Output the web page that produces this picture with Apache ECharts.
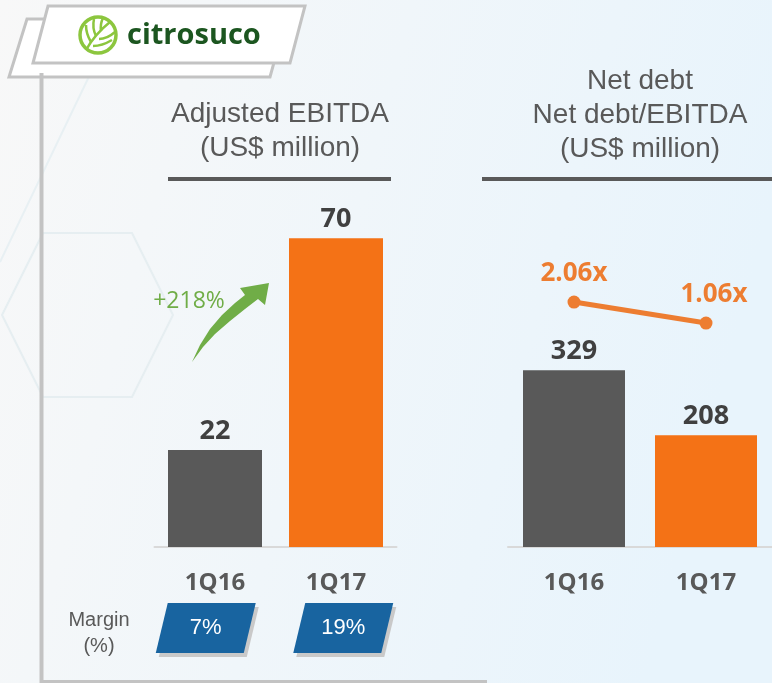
<!DOCTYPE html>
<html>
<head>
<meta charset="utf-8">
<script src="https://cdn.jsdelivr.net/npm/echarts@6/dist/echarts.min.js"></script>
<style>
html, body { margin: 0; padding: 0; }
#main { width: 772px; height: 683px; }
</style>
</head>
<body>
<div id="main"></div>
<script>
var quarters = ['1Q16', '1Q17'];
var ebitdaValues = [22, 70];
var marginLabels = ['7%', '19%'];
var netDebtValues = [329, 208];
var ratioValues = [2.06, 1.06];
var growthLabel = '+218%';

var gray = '#595959';
var orange = '#f47216';
var lineOrange = '#ed7d31';
var frameGray = '#c3c3c3';
var leafGreen = '#8cc63e';
var numFont = '"Open Sans", "DejaVu Sans", sans-serif';
var txtFont = '"Liberation Sans", Arial, sans-serif';

var chart = echarts.init(document.getElementById('main'));

function barLabel() {
	return {
		show: true,
		position: 'top',
		distance: 5,
		color: '#404040',
		fontFamily: numFont,
		fontWeight: 'bold',
		fontSize: 27
	};
}

function catAxis(gridIndex, showLine) {
	return {
		type: 'category',
		gridIndex: gridIndex,
		data: quarters,
		show: showLine,
		axisLine: { show: showLine, lineStyle: { color: '#d9d9d9', width: 2 } },
		axisTick: { show: false },
		axisLabel: {
			show: showLine,
			margin: 24,
			color: gray,
			fontFamily: numFont,
			fontWeight: 'bold',
			fontSize: 24
		}
	};
}

// parallelogram boxes with the margin under the left chart
function renderMargin(params, api) {
	var top = api.coord([api.value(0), 1]);
	var bot = api.coord([api.value(0), 0]);
	var cx = top[0];
	var pts = [[cx - 38, top[1]], [cx + 50, top[1]], [cx + 38, bot[1]], [cx - 50, bot[1]]];
	var shadow = pts.map(function(p) { return [p[0] + 3, p[1] + 4]; });
	return {
		type: 'group',
		children: [
			{ type: 'polygon', shape: { points: shadow }, style: { fill: '#c9c9c9' } },
			{ type: 'polygon', shape: { points: pts }, style: { fill: '#1864a0' } },
			{
				type: 'text',
				x: cx,
				y: (top[1] + bot[1]) / 2,
				style: {
					text: marginLabels[params.dataIndex],
					fill: '#ffffff',
					font: '22px ' + txtFont,
					align: 'center',
					verticalAlign: 'middle'
				}
			}
		]
	};
}

function vein(x1, y1, cx, cy, x2, y2) {
	return {
		type: 'bezierCurve',
		shape: { x1: x1, y1: y1, cpx1: cx, cpy1: cy, x2: x2, y2: y2 },
		style: { stroke: leafGreen, lineWidth: 2.5, fill: null }
	};
}

var hex = [[43, 233], [132, 233], [173, 315], [132, 397], [43, 397], [2, 315], [43, 233]];
var arrowPts = [[192, 362], [200, 345], [210, 329], [222, 315], [235, 303], [245, 295], [240, 288], [269, 283],
	[265, 305], [258, 299], [245, 309], [230, 321], [215, 334], [203, 347]];

var option = {
	animation: false,
	graphic: [
		{
			type: 'rect', z: -10, silent: true,
			shape: { x: 0, y: 0, width: 772, height: 683 },
			style: {
				fill: new echarts.graphic.LinearGradient(0, 0, 1, 0.3, [
					{ offset: 0, color: '#f8f8f8' },
					{ offset: 1, color: '#e8f4fc' }
				])
			}
		},
		{ type: 'polyline', z: -9, shape: { points: hex }, style: { stroke: '#e6eef1', lineWidth: 2, fill: null } },
		{ type: 'polyline', z: -9, shape: { points: [[95, 64], [0, 262]] }, style: { stroke: '#e8f0f3', lineWidth: 2 } },
		// logo frames
		{ type: 'polygon', shape: { points: [[27, 19], [286, 19], [270, 77], [9, 77]] }, style: { fill: '#ffffff', stroke: frameGray, lineWidth: 3 } },
		{ type: 'polygon', shape: { points: [[48, 6], [305, 6], [290, 63], [33, 63]] }, style: { fill: '#ffffff', stroke: frameGray, lineWidth: 3 } },
		{ type: 'circle', shape: { cx: 98, cy: 35, r: 18 }, style: { fill: null, stroke: leafGreen, lineWidth: 3.5 } },
		vein(86, 50, 95, 34, 110, 22),
		vein(91, 42, 86, 34, 86, 25),
		vein(96, 36, 92, 28, 94, 19),
		vein(101, 31, 100, 24, 103, 18),
		vein(93, 46, 102, 46, 112, 40),
		vein(99, 39, 107, 39, 115, 32),
		{ type: 'text', x: 127, y: 36, style: { text: 'citrosuco', fill: '#1c5620', font: 'bold 29px ' + numFont, align: 'left', verticalAlign: 'middle' } },
		// side frame
		{ type: 'line', shape: { x1: 41.5, y1: 73, x2: 41.5, y2: 683 }, style: { stroke: frameGray, lineWidth: 4 } },
		{ type: 'line', shape: { x1: 40, y1: 681.5, x2: 487, y2: 681.5 }, style: { stroke: frameGray, lineWidth: 3 } },
		// titles
		{ type: 'text', x: 280, y: 131, style: { text: 'Adjusted EBITDA\n(US$ million)', fill: gray, font: '28px ' + txtFont, lineHeight: 34, align: 'center', verticalAlign: 'middle' } },
		{ type: 'line', shape: { x1: 168, y1: 179, x2: 391, y2: 179 }, style: { stroke: gray, lineWidth: 4 } },
		{ type: 'text', x: 640, y: 115, style: { text: 'Net debt\nNet debt/EBITDA\n(US$ million)', fill: gray, font: '28px ' + txtFont, lineHeight: 34, align: 'center', verticalAlign: 'middle' } },
		{ type: 'line', shape: { x1: 482, y1: 179, x2: 772, y2: 179 }, style: { stroke: gray, lineWidth: 4 } },
		// growth arrow
		{ type: 'polygon', shape: { points: arrowPts }, style: { fill: '#70ad47' } },
		{ type: 'text', x: 189, y: 301, style: { text: growthLabel, fill: '#70ad47', font: '23px ' + numFont, align: 'center', verticalAlign: 'middle' } },
		{ type: 'text', x: 99, y: 633, style: { text: 'Margin\n(%)', fill: gray, font: '20px ' + txtFont, lineHeight: 26, align: 'center', verticalAlign: 'middle' } }
	],
	grid: [
		{ left: 154.5, width: 242, top: 106, height: 441 },
		{ left: 508, width: 264, top: 171, height: 376 },
		{ left: 137, width: 275, top: 603, height: 50 }
	],
	xAxis: [catAxis(0, true), catAxis(1, true), catAxis(2, false)],
	yAxis: [
		{ type: 'value', gridIndex: 0, min: 0, max: 100, show: false },
		{ type: 'value', gridIndex: 1, min: 0, max: 700, show: false },
		{ type: 'value', gridIndex: 1, min: -9.6, max: 8.3, show: false },
		{ type: 'value', gridIndex: 2, min: 0, max: 1, show: false }
	],
	series: [
		{
			type: 'bar',
			xAxisIndex: 0,
			yAxisIndex: 0,
			barWidth: 94,
			data: ebitdaValues.map(function(v, i) {
				return { value: v, itemStyle: { color: i == 0 ? gray : orange } };
			}),
			label: barLabel()
		},
		{
			type: 'bar',
			xAxisIndex: 1,
			yAxisIndex: 1,
			barWidth: 102,
			data: netDebtValues.map(function(v, i) {
				return { value: v, itemStyle: { color: i == 0 ? gray : orange } };
			}),
			label: barLabel()
		},
		{
			type: 'line',
			xAxisIndex: 1,
			yAxisIndex: 2,
			symbol: 'circle',
			symbolSize: 13,
			lineStyle: { color: lineOrange, width: 5 },
			itemStyle: { color: lineOrange },
			data: ratioValues.map(function(v, i) {
				return { value: v, label: { offset: i == 1 ? [8, 0] : [0, 0] } };
			}),
			label: {
				show: true,
				position: 'top',
				distance: 9,
				color: lineOrange,
				fontFamily: numFont,
				fontWeight: 'bold',
				fontSize: 26,
				formatter: function(p) {
					return p.value.toFixed(2) + 'x';
				}
			}
		},
		{
			type: 'custom',
			xAxisIndex: 2,
			yAxisIndex: 3,
			clip: false,
			renderItem: renderMargin,
			data: quarters.map(function(q, i) { return [i]; })
		}
	]
};

chart.setOption(option);
</script>
</body>
</html>
